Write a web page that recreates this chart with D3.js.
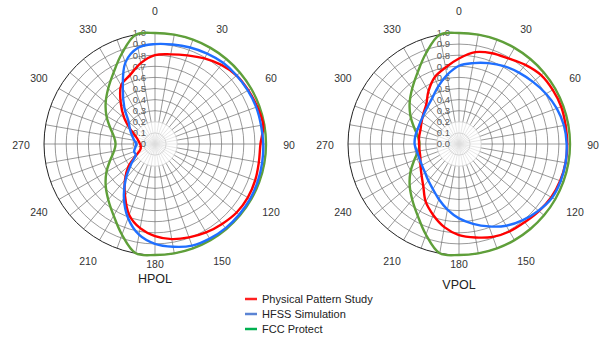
<!DOCTYPE html>
<html>
<head>
<meta charset="utf-8">
<script src="https://cdn.jsdelivr.net/npm/d3@7"></script>
<style>
  body { margin: 0; background: #fff; }
  svg { display: block; font-family: "Liberation Sans", Arial, sans-serif; }
</style>
</head>
<body>
<svg id="chart" width="602" height="337"></svg>
<script>
// sample angles, one value every 10 degrees (0 = top, clockwise)
const sampleAngles = d3.range(0, 360, 10);

// HPOL
const hpolPhysical = [0.80, 0.82, 0.85, 0.89, 0.93, 0.96, 0.97, 0.98, 0.99, 0.95, 0.95, 0.96,
                      0.965, 0.96, 0.94, 0.92, 0.895, 0.87, 0.83, 0.77, 0.68, 0.54, 0.42, 0.31,
                      0.19, 0.14, 0.13, 0.135, 0.15, 0.18, 0.25, 0.36, 0.48, 0.61, 0.66, 0.74];
const hpolHfss = [0.90, 0.91, 0.925, 0.94, 0.955, 0.96, 0.965, 0.97, 0.97, 0.975, 0.98, 0.985,
                  0.99, 0.99, 0.99, 0.985, 0.975, 0.94, 0.90, 0.83, 0.71, 0.56, 0.41, 0.28,
                  0.20, 0.20, 0.18, 0.17, 0.19, 0.22, 0.26, 0.31, 0.43, 0.58, 0.78, 0.88];

// VPOL
const vpolPhysical = [0.77, 0.84, 0.87, 0.89, 0.93, 0.965, 0.975, 0.98, 0.975, 0.975, 0.975, 0.97,
                      0.96, 0.94, 0.92, 0.91, 0.89, 0.855, 0.82, 0.76, 0.68, 0.60, 0.50, 0.44,
                      0.40, 0.37, 0.36, 0.36, 0.365, 0.37, 0.39, 0.42, 0.46, 0.55, 0.64, 0.70];
const vpolHfss = [0.705, 0.74, 0.775, 0.81, 0.84, 0.87, 0.905, 0.937, 0.96, 0.97, 0.975, 0.975,
                  0.968, 0.935, 0.895, 0.85, 0.79, 0.73, 0.67, 0.60, 0.53, 0.47, 0.43, 0.40,
                  0.385, 0.38, 0.385, 0.40, 0.40, 0.395, 0.40, 0.415, 0.44, 0.48, 0.55, 0.63];

// FCC protection mask, same on both plots
const fccProtect = [1, 1, 1, 1, 1, 1, 1, 1, 1, 1, 1, 1,
                    1, 1, 1, 1, 1, 1, 1, 1.0, 0.87, 0.745, 0.655, 0.58,
                    0.505, 0.43, 0.375, 0.355, 0.375, 0.43, 0.505, 0.58, 0.655, 0.745, 0.87, 1.0];

const angleTicks = [0, 30, 60, 90, 120, 150, 180, 210, 240, 270, 300, 330];
const radialTicks = [0, 0.1, 0.2, 0.3, 0.4, 0.5, 0.6, 0.7, 0.8, 0.9, 1.0];

const seriesNames = ["Physical Pattern Study", "HFSS Simulation", "FCC Protect"];
const lineColors = ["#ff0000", "#1f6fff", "#5f9f3a"];
const legendColors = ["#ff2020", "#5b84d4", "#00b050"];

const svg = d3.select("#chart");
const R = 111;

const r = d3.scaleLinear().domain([0, 1]).range([0, R]);
const ang = d3.scaleLinear().domain([0, 360]).range([0, 2 * Math.PI]);

function drawPolar(cx, cy, title, titleY, series) {
  const g = svg.append("g").attr("transform", `translate(${cx},${cy})`);

  // spokes, light near the middle
  const spokes = d3.range(0, 360, 10);
  g.selectAll(".spokeIn").data(spokes).enter().append("line")
    .attr("x1", 0).attr("y1", 0)
    .attr("x2", d => Math.sin(ang(d)) * r(0.2))
    .attr("y2", d => -Math.cos(ang(d)) * r(0.2))
    .attr("stroke", "#dcdcdc").attr("stroke-width", 0.7);
  g.selectAll(".spokeOut").data(spokes).enter().append("line")
    .attr("x1", d => Math.sin(ang(d)) * r(0.2))
    .attr("y1", d => -Math.cos(ang(d)) * r(0.2))
    .attr("x2", d => Math.sin(ang(d)) * r(1))
    .attr("y2", d => -Math.cos(ang(d)) * r(1))
    .attr("stroke", "#6e6e6e").attr("stroke-width", 0.7);

  // rings
  g.selectAll(".ring").data(radialTicks.slice(1)).enter().append("circle")
    .attr("r", d => r(d))
    .attr("fill", "none")
    .attr("stroke", d => d === 1 ? "#222" : (d <= 0.2 ? "#c8c8c8" : "#6e6e6e"))
    .attr("stroke-width", d => d === 1 ? 1 : 0.7);

  // radial tick labels
  g.selectAll(".rlab").data(radialTicks).enter().append("text")
    .attr("x", -9)
    .attr("y", d => -r(d))
    .attr("dy", "0.35em")
    .attr("text-anchor", "end")
    .attr("font-size", 9.5)
    .attr("fill", "#595959")
    .text(d => d.toFixed(1));

  // curves
  const line = d3.lineRadial()
    .angle((d, i) => ang(sampleAngles[i]))
    .radius(d => r(d))
    .curve(d3.curveCatmullRomClosed.alpha(0.5));

  const order = [2, 0, 1];
  order.forEach(function(k) {
    g.append("path")
      .attr("d", line(series[k]))
      .attr("fill", "none")
      .attr("stroke", lineColors[k])
      .attr("stroke-width", 2.4)
      .attr("stroke-linejoin", "round");
  });

  // angle labels
  g.selectAll(".alab").data(angleTicks).enter().append("text")
    .attr("x", d => Math.sin(ang(d)) * (d === 180 ? 120 : 134))
    .attr("y", d => -Math.cos(ang(d)) * (d === 180 ? 119 : 134) + 1)
    .attr("dy", "0.35em")
    .attr("text-anchor", "middle")
    .attr("font-size", 10.5)
    .attr("fill", "#333")
    .text(d => d);

  svg.append("text")
    .attr("x", cx).attr("y", titleY)
    .attr("dy", "0.35em")
    .attr("text-anchor", "middle")
    .attr("font-size", 12.5)
    .attr("fill", "#222")
    .text(title);
}

drawPolar(155, 144, "HPOL", 279, [hpolPhysical, hpolHfss, fccProtect]);
drawPolar(459, 144, "VPOL", 285, [vpolPhysical, vpolHfss, fccProtect]);

// legend
const legend = svg.append("g").attr("transform", "translate(245,299)");
seriesNames.forEach(function(name, i) {
  legend.append("line")
    .attr("x1", 0).attr("x2", 12)
    .attr("y1", i * 15).attr("y2", i * 15)
    .attr("stroke", legendColors[i])
    .attr("stroke-width", 2.5);
  legend.append("text")
    .attr("x", 17).attr("y", i * 15)
    .attr("dy", "0.35em")
    .attr("font-size", 11)
    .attr("fill", "#222")
    .text(name);
});
</script>
</body>
</html>
